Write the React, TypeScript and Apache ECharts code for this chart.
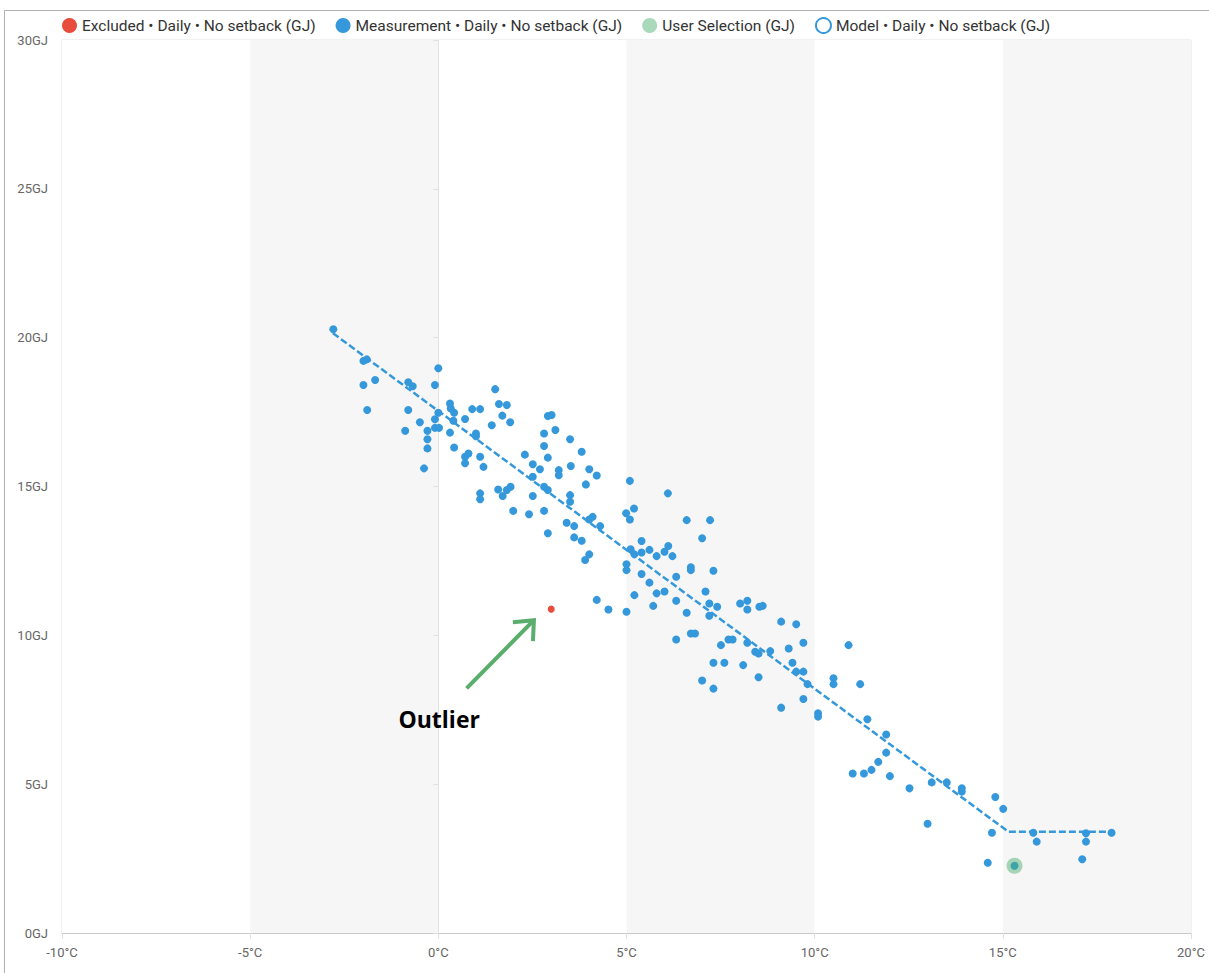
import React, { useEffect, useRef } from "react";
import * as echarts from "echarts";

const X_MIN = -10;
const X_MAX = 20;
const X_STEP = 5;
const Y_MIN = 0;
const Y_MAX = 30;
const Y_STEP = 5;
const X_UNIT = "°C";
const Y_UNIT = "GJ";

const SERIES_NAMES = [
  "Excluded • Daily • No setback (GJ)",
  "Measurement • Daily • No setback (GJ)",
  "User Selection (GJ)",
  "Model • Daily • No setback (GJ)",
];

const excluded: number[][] = [[3.0, 10.88]];

const measurement: number[][] = [
  [-2.79, 20.28], [-1.99, 19.22], [-1.9, 19.27], [-1.99, 18.41], [-1.68, 18.58], [-1.89, 17.57],
  [-0.8, 18.5], [-0.68, 18.37], [-0.8, 17.57], [-0.88, 16.87], [-0.49, 17.16], [-0.29, 16.87],
  [-0.29, 16.59], [-0.29, 16.28], [-0.38, 15.61], [0.0, 18.97], [-0.09, 18.41], [0.0, 17.48],
  [-0.09, 17.26], [-0.09, 16.97], [0.02, 16.97], [0.31, 17.79], [0.33, 17.62], [0.42, 17.48],
  [0.4, 17.21], [0.31, 16.81], [0.42, 16.31], [0.71, 17.27], [0.9, 17.6], [1.11, 17.6],
  [1.0, 16.78], [1.0, 16.69], [0.71, 16.0], [0.8, 16.11], [0.71, 15.78], [1.11, 16.0],
  [1.2, 15.66], [1.11, 14.77], [1.11, 14.57], [1.42, 17.06], [1.51, 18.27], [1.61, 17.77],
  [1.82, 17.74], [1.7, 17.38], [1.91, 17.16], [1.59, 14.9], [1.71, 14.68], [1.82, 14.88],
  [1.92, 14.99], [1.99, 14.18], [2.3, 16.07], [2.51, 15.75], [2.7, 15.58], [2.51, 15.33],
  [2.51, 14.68], [2.41, 14.07], [2.81, 16.78], [2.81, 16.36], [2.91, 15.97], [2.91, 17.37],
  [3.01, 17.4], [3.11, 16.9], [2.81, 14.99], [2.91, 14.88], [2.81, 14.18], [2.91, 13.43],
  [3.2, 15.55], [3.2, 15.38], [3.5, 16.59], [3.52, 15.69], [3.5, 14.71], [3.5, 14.49],
  [3.41, 13.78], [3.61, 13.67], [3.61, 13.29], [3.81, 13.18], [3.81, 16.17], [3.92, 15.07],
  [4.01, 15.58], [4.21, 15.37], [4.1, 13.98], [4.01, 13.89], [4.3, 13.67], [5.09, 15.19],
  [4.99, 14.1], [5.09, 13.89], [5.2, 14.26],
  [4.01, 12.72], [3.9, 12.53], [4.21, 11.19], [4.52, 10.87], [5.0, 10.79], [6.1, 14.77],
  [5.4, 13.17], [5.11, 12.89], [5.21, 12.72], [5.4, 12.78], [5.61, 12.87], [5.8, 12.66],
  [6.01, 12.81], [6.11, 13.0], [6.22, 12.66], [5.0, 12.39], [5.0, 12.19], [5.4, 12.06],
  [5.61, 11.77], [5.21, 11.35], [5.8, 11.41], [6.01, 11.47], [5.71, 10.99], [6.32, 11.97],
  [6.32, 11.16], [6.6, 13.87], [7.22, 13.87], [7.01, 13.26], [6.71, 12.29], [6.71, 12.19],
  [7.31, 12.17], [6.6, 10.76], [7.1, 11.47], [7.2, 11.07], [7.2, 10.66], [7.41, 10.96],
  [6.71, 10.06], [6.82, 10.06], [6.32, 9.86], [8.02, 11.07], [8.21, 11.16], [8.21, 10.87],
  [8.53, 10.96], [8.62, 10.99], [7.51, 9.67], [7.71, 9.86], [7.82, 9.86], [8.21, 9.75],
  [8.42, 9.45], [8.51, 9.39], [8.82, 9.47], [9.11, 10.46], [9.51, 10.37], [9.31, 9.56],
  [9.7, 9.75], [7.31, 9.08], [7.6, 9.08], [8.1, 9.0], [8.51, 8.59], [7.01, 8.48],
  [7.31, 8.21], [9.41, 9.08], [9.51, 8.78], [9.7, 8.78], [9.81, 8.36], [10.5, 8.56],
  [10.5, 8.36], [11.21, 8.36], [10.9, 9.67],
  [9.11, 7.57], [9.7, 7.86], [10.09, 7.38], [10.09, 7.27], [11.4, 7.18], [11.9, 6.67],
  [11.9, 6.06], [11.69, 5.75], [11.51, 5.48], [11.31, 5.36], [11.01, 5.36], [12.0, 5.27],
  [12.52, 4.86], [13.11, 5.06], [13.51, 5.06], [13.91, 4.86], [13.91, 4.75], [13.0, 3.67],
  [14.8, 4.57], [15.01, 4.17], [14.71, 3.37], [14.6, 2.36], [15.81, 3.37], [15.9, 3.07],
  [17.21, 3.35], [17.21, 3.07], [17.11, 2.48], [17.89, 3.37], [15.31, 2.26],
];

const userSelection: number[][] = [[15.31, 2.26]];

const model: number[][] = [[-2.8, 20.15], [15.15, 3.4], [17.9, 3.4]];

// annotation anchors in data coordinates
const ARROW_FROM = [0.75, 8.22];
const ARROW_TO = [2.54, 10.51];
const LABEL_AT = [-1.06, 7.2];
const LABEL_TEXT = "Outlier";

const BLUE = "#3498db";
const RED = "#e74c3c";
const GREEN = "rgba(76,175,110,0.6)";

export default function App() {
  const ref = useRef<HTMLDivElement>(null);

  useEffect(() => {
    const chart = echarts.init(ref.current!, null, { renderer: "svg" });
    chart.setOption({
      animation: false,
      backgroundColor: "#fff",
      textStyle: { fontFamily: "Roboto" },
      legend: {
        left: 62,
        top: 17,
        padding: 0,
        itemWidth: 15,
        itemHeight: 15,
        itemGap: 20,
        textStyle: { fontSize: 15.5, color: "#333", fontFamily: "Roboto" },
        data: [
          { name: SERIES_NAMES[0], icon: "circle" },
          { name: SERIES_NAMES[1], icon: "circle" },
          { name: SERIES_NAMES[2], icon: "circle" },
          {
            name: SERIES_NAMES[3],
            icon: "circle",
            itemStyle: { color: "#fff", borderColor: BLUE, borderWidth: 2 },
          },
        ],
      },
      grid: {
        left: 62,
        right: 18,
        top: 40,
        bottom: 40,
        show: true,
        borderColor: "#e3e3e3",
        borderWidth: 1,
      },
      xAxis: {
        type: "value",
        min: X_MIN,
        max: X_MAX,
        interval: X_STEP,
        axisLine: { show: true, onZero: false, lineStyle: { color: "#c8c8c8" } },
        axisTick: { show: true, length: 6, lineStyle: { color: "#e0e0e0" } },
        axisLabel: {
          formatter: (v: number) => `${v}${X_UNIT}`,
          color: "#666",
          fontSize: 13,
          margin: 13,
          fontFamily: "Roboto",
        },
        splitLine: { show: false },
        splitArea: { show: true, areaStyle: { color: ["#ffffff", "#f6f6f6"] } },
      },
      yAxis: {
        type: "value",
        min: Y_MIN,
        max: Y_MAX,
        interval: Y_STEP,
        axisLine: { show: true, lineStyle: { color: "#e3e3e3" } },
        axisTick: { show: true, length: 5, lineStyle: { color: "#e0e0e0" } },
        axisLabel: {
          formatter: (v: number) => `${v}${Y_UNIT}`,
          color: "#666",
          fontSize: 13,
          margin: 14,
          fontFamily: "Roboto",
        },
        splitLine: { show: false },
      },
      series: [
        {
          name: SERIES_NAMES[3],
          type: "line",
          data: model,
          showSymbol: false,
          symbol: "circle",
          itemStyle: { color: BLUE },
          lineStyle: { color: BLUE, width: 2.5, type: [7, 3] },
          z: 1,
        },
        {
          name: SERIES_NAMES[1],
          type: "scatter",
          data: measurement,
          symbolSize: 8,
          itemStyle: { color: BLUE, opacity: 1 },
          z: 2,
        },
        {
          name: SERIES_NAMES[0],
          type: "scatter",
          data: excluded,
          symbolSize: 7,
          itemStyle: { color: RED, opacity: 1 },
          z: 3,
        },
        {
          name: SERIES_NAMES[2],
          type: "scatter",
          data: userSelection,
          symbolSize: 16,
          itemStyle: { color: GREEN },
          z: 4,
        },
      ],
    });

    const p = (v: number[]) => chart.convertToPixel({ gridIndex: 0 }, v) as number[];
    const tail = p(ARROW_FROM);
    const tip = p(ARROW_TO);
    const lbl = p(LABEL_AT);
    const arrowColor = "#5aae6c";

    chart.setOption({
      graphic: [
        {
          type: "line",
          shape: { x1: 4.5, y1: 10.5, x2: 1209, y2: 10.5 },
          style: { stroke: "#b0b0b0", lineWidth: 1 },
          silent: true,
        },
        {
          type: "line",
          shape: { x1: 4.5, y1: 10.5, x2: 4.5, y2: 973 },
          style: { stroke: "#b0b0b0", lineWidth: 1 },
          silent: true,
        },
        {
          type: "line",
          shape: { x1: tail[0], y1: tail[1], x2: tip[0] - 2, y2: tip[1] + 2 },
          style: { stroke: arrowColor, lineWidth: 4 },
          z: 100,
        },
        {
          type: "polyline",
          shape: {
            points: [
              [tip[0] - 21, tip[1] + 2],
              [tip[0], tip[1]],
              [tip[0] - 1, tip[1] + 21],
            ],
          },
          style: { stroke: arrowColor, lineWidth: 4, fill: null, lineJoin: "miter" },
          z: 100,
        },
        {
          type: "text",
          x: lbl[0],
          y: lbl[1],
          style: {
            text: LABEL_TEXT,
            fontSize: 23,
            fontWeight: "bold",
            fontFamily: "Open Sans",
            fill: "#000",
            verticalAlign: "middle",
            align: "left",
          },
          z: 100,
        },
      ],
    });

    return () => chart.dispose();
  }, []);

  return (
    <div
      ref={ref}
      style={{ position: "fixed", left: 0, top: 0, width: 1209, height: 973, background: "#fff" }}
    />
  );
}
